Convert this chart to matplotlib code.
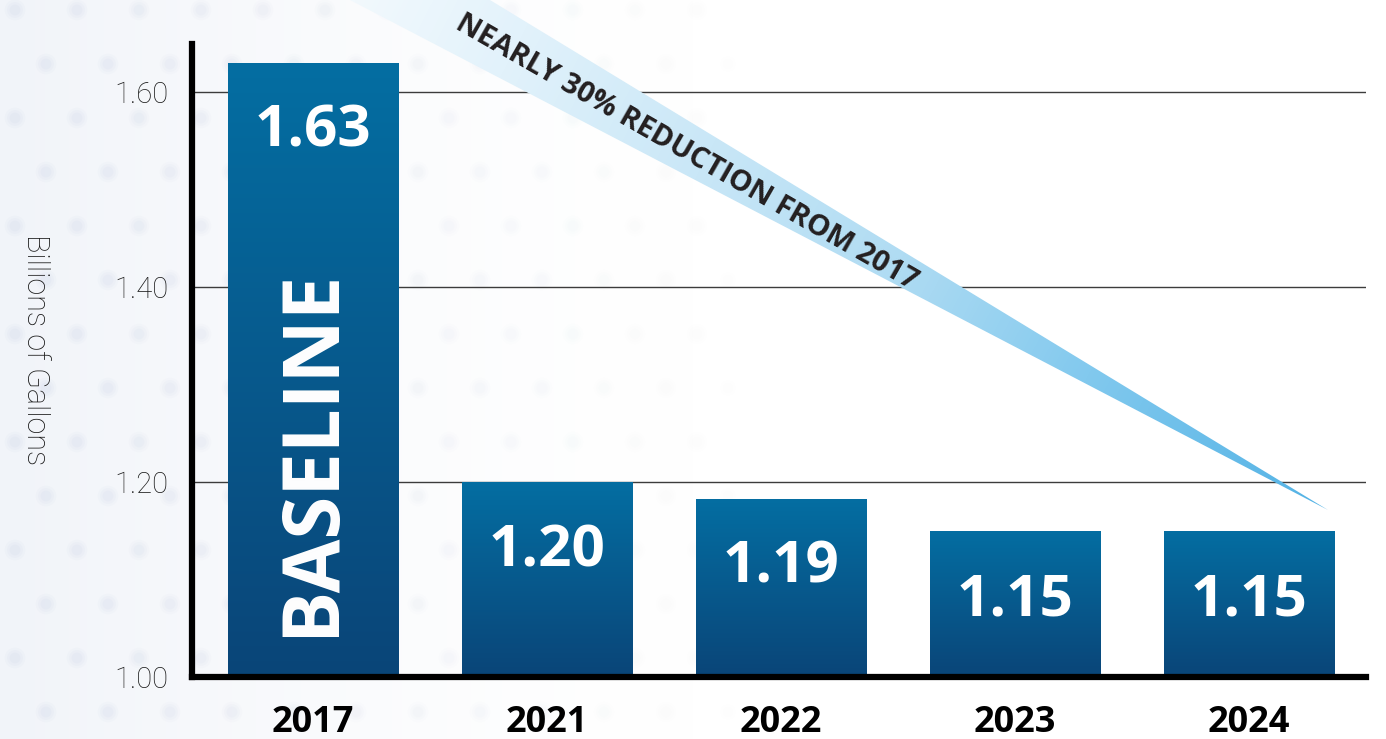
import matplotlib
matplotlib.use('Agg')
import matplotlib.pyplot as plt
import numpy as np
from matplotlib.colors import LinearSegmentedColormap, to_rgb
from matplotlib.patches import Polygon

years = ['2017', '2021', '2022', '2023', '2024']
gallons = [1.63, 1.20, 1.183, 1.15, 1.15]
value_labels = ['1.63', '1.20', '1.19', '1.15', '1.15']
y_ticks = [1.00, 1.20, 1.40, 1.60]
baseline_text = 'BASELINE'
callout = 'NEARLY 30% REDUCTION FROM 2017'

W, H = 1386, 739
fig = plt.figure(figsize=(W / 100, H / 100), dpi=100)

# faint wash + soft dot texture on the left of the background
bg = fig.add_axes([0, 0, 1, 1], zorder=0)
bg.axis('off')
xx = np.linspace(0, 1, 400)
fade = np.clip(1 - xx / 0.5, 0, 1) ** 1.5
wash = np.ones((2, 400, 3))
tint = np.array(to_rgb('#f1f4f9'))
for c in range(3):
    wash[:, :, c] = 1 - fade * (1 - tint[c])
bg.imshow(wash, extent=(0, W, 0, H), aspect='auto')
dx, dy = 62, 54
for row, yy in enumerate(np.arange(10, H, dy)):
    xs = np.arange(15 + (row % 2) * dx / 2, 760, dx)
    a = np.clip(1 - xs / 760, 0, 1)
    # fake blur: stacked translucent discs
    for size, alpha in [(220, 0.04), (130, 0.05), (60, 0.06)]:
        cols = [(0.60, 0.67, 0.82, ai * alpha) for ai in a]
        bg.scatter(xs, np.full(len(xs), H - yy), s=size, c=cols, edgecolors='none')
bg.set_xlim(0, W)
bg.set_ylim(0, H)

ax = fig.add_axes([192 / W, 62 / H, (1366 - 192) / W, (677 - 44) / H], zorder=1)
ax.set_facecolor('none')

x = np.arange(len(years))
width = 0.727
bar_cmap = LinearSegmentedColormap.from_list('bar', ['#0a4578', '#046ea2'])
grad = np.linspace(0, 1, 256).reshape(-1, 1)

bars = ax.bar(x, gallons, width=width, color='none', edgecolor='none', zorder=2)
for xi, v, b in zip(x, gallons, bars):
    im = ax.imshow(grad, cmap=bar_cmap, origin='lower', aspect='auto',
                   extent=(xi - width / 2, xi + width / 2, 1.0, v), zorder=2)
    im.set_clip_path(b)

for xi, v, lab in zip(x, gallons, value_labels):
    ax.annotate(lab, (xi, v), xytext=(0, -50), textcoords='offset points',
                ha='center', va='center', color='white', fontsize=42,
                fontweight='bold', family=['Open Sans', 'DejaVu Sans'], zorder=3)

ax.text(x[0], 1.23, baseline_text, rotation=90, ha='center', va='center',
        color='white', fontsize=56, fontweight='bold',
        family=['Open Sans', 'DejaVu Sans'], zorder=3)

ax.set_xlim(-0.517, 4.5)
ax.set_ylim(1.0, 1.649)
ax.set_yticks(y_ticks)
ax.set_yticklabels([f'{t:.2f}' for t in y_ticks])
ax.set_xticks(x)
ax.set_xticklabels(years)

ax.grid(axis='y', color='#3c3c3c', linewidth=1.0)
ax.set_axisbelow(True)

for s in ['top', 'right']:
    ax.spines[s].set_visible(False)
for s in ['left', 'bottom']:
    ax.spines[s].set_linewidth(4.5)
    ax.spines[s].set_color('black')
    ax.spines[s].set_capstyle('projecting')

ax.tick_params(axis='y', length=0, pad=17, labelsize=21, labelcolor='#1a1a1a')
ax.tick_params(axis='x', length=0, pad=20, labelsize=26)
for t in ax.get_yticklabels():
    t.set_family(['Roboto', 'DejaVu Sans'])
    t.set_fontweight('light')
for t in ax.get_xticklabels():
    t.set_family(['Open Sans', 'DejaVu Sans'])
    t.set_fontweight('bold')

fig.text(35 / W, 1 - 350 / H, 'Billions of Gallons', rotation=270,
         ha='center', va='center', fontsize=22, color='#1a1a1a',
         family=['Roboto', 'DejaVu Sans'], fontweight='light')

# tapering callout ribbon
ov = fig.add_axes([0, 0, 1, 1], zorder=4)
ov.set_facecolor('none')
ov.axis('off')
ov.set_xlim(0, W)
ov.set_ylim(H, 0)
p0 = np.array([350.0, 0.0])
tip = np.array([1328.0, 510.0])
wedge = Polygon([(296, -28), (473, -28), (490, 0), tuple(tip), (350, 0)],
                closed=True, facecolor='none', edgecolor='none')
ov.add_patch(wedge)
gx, gy = np.meshgrid(np.arange(W), np.arange(H))
d = tip - p0
t = np.clip(((gx - p0[0]) * d[0] + (gy - p0[1]) * d[1]) / (d @ d), 0, 1)
stops = [(0.0, '#f2f9fd'), (0.15, '#e2f2fb'), (0.55, '#b0dcf3'),
         (0.75, '#82c9ee'), (1.0, '#52b2e5')]
rib_cmap = LinearSegmentedColormap.from_list('rib', stops)
rim = ov.imshow(rib_cmap(t), extent=(0, W, H, 0), aspect='auto', zorder=1)
rim.set_clip_path(wedge)
ov.set_xlim(0, W)
ov.set_ylim(H, 0)

ov.text(686, 152, callout, rotation=-29.8, rotation_mode='anchor',
        ha='center', va='center', fontsize=21, fontweight='bold',
        color='#231f20', family=['Open Sans', 'DejaVu Sans'], zorder=2)

fig.savefig('out.png', dpi=100)
